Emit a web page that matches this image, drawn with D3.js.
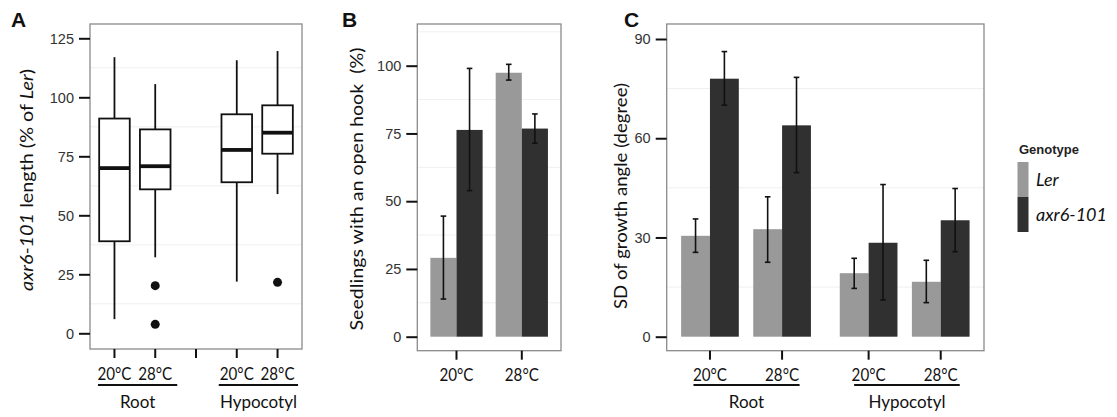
<!DOCTYPE html>
<html>
<head>
<meta charset="utf-8">
<script src="https://cdn.jsdelivr.net/npm/d3@7"></script>
<style>
  html, body { margin: 0; padding: 0; background: #fff; }
  svg { display: block; }
</style>
</head>
<body>
<svg id="chart" width="1117" height="417"></svg>
<script>
// ---------- DATA ----------
// Panel A: box plots of axr6-101 length (% of Ler)
const boxCats   = ["20°C", "28°C", "", "20°C", "28°C"];
const boxMin    = [6, 32.2, null, 21.9, 59];
const boxQ1     = [39, 61, null, 64, 76.1];
const boxMed    = [70, 70.8, null, 77.7, 85];
const boxQ3     = [91, 86.4, null, 92.8, 96.6];
const boxMax    = [117, 105.6, null, 115.7, 119.6];
const boxOut    = [[], [20.2, 3.8], [], [], [21.6]];
const boxTicks  = [0, 25, 50, 75, 100, 125];
const boxGroups = ["Root", "Hypocotyl"];

// Panel B: seedlings with an open hook (%)
const hookCats   = ["20°C", "28°C"];
const hookLer    = [29.1, 97.4];
const hookLerLo  = [13.9, 94.7];
const hookLerHi  = [44.5, 100.5];
const hookAxr    = [76.3, 76.8];
const hookAxrLo  = [53.9, 71.4];
const hookAxrHi  = [99.0, 82.2];
const hookTicks  = [0, 25, 50, 75, 100];

// Panel C: SD of growth angle (degree)
const angleCats    = ["20°C", "28°C", "20°C", "28°C"];
const angleTissue  = ["Root", "Root", "Hypocotyl", "Hypocotyl"];
const angleLer     = [30.5, 32.5, 19.2, 16.6];
const angleLerLo   = [25.5, 22.5, 14.6, 10.3];
const angleLerHi   = [35.6, 42.3, 23.7, 23.1];
const angleAxr     = [78.0, 63.9, 28.4, 35.2];
const angleAxrLo   = [70.0, 49.6, 11.1, 25.7];
const angleAxrHi   = [86.2, 78.4, 46.0, 44.8];
const angleTicks   = [0, 30, 60, 90];

const genotypes = ["Ler", "axr6-101"];
const genoColors = ["#999999", "#303030"];

// ---------- DRAWING ----------
const svg = d3.select("#chart");
const tickFont = "'Liberation Sans', Arial, sans-serif";
const textFont = "Lato, 'Open Sans', sans-serif";

function panelFrame(g, x0, x1, y0, y1) {
  g.append("rect").attr("x", x0).attr("y", y0).attr("width", x1 - x0).attr("height", y1 - y0)
    .attr("fill", "#fff").attr("stroke", "none");
}
function panelBorder(g, x0, x1, y0, y1) {
  g.append("rect").attr("x", x0).attr("y", y0).attr("width", x1 - x0).attr("height", y1 - y0)
    .attr("fill", "none").attr("stroke", "#8a8a8a").attr("stroke-width", 1.3);
}
function minorGrid(g, y, ticks, x0, x1, y0, y1) {
  const step = ticks[1] - ticks[0];
  const mids = [ticks[0] - step / 2].concat(ticks.map(t => t + step / 2));
  g.selectAll(null).data(mids.filter(d => y(d) > y0 && y(d) < y1)).enter().append("line")
    .attr("x1", x0).attr("x2", x1)
    .attr("y1", d => y(d)).attr("y2", d => y(d))
    .attr("stroke", "#efefef").attr("stroke-width", 1);
}
function yAxis(g, y, ticks, x0) {
  const ax = d3.axisLeft(y).tickValues(ticks).tickSize(11).tickFormat("");
  const a = g.append("g").attr("transform", `translate(${x0},0)`).call(ax);
  a.select(".domain").remove();
  a.selectAll(".tick line").attr("stroke", "#111").attr("stroke-width", 2);
  g.selectAll(null).data(ticks).enter().append("text")
    .attr("x", x0 - 16).attr("y", d => y(d)).attr("dy", "0.36em")
    .attr("text-anchor", "end").attr("font-family", tickFont).attr("font-size", 14.5)
    .attr("fill", "#333").text(d => d);
}
function xAxis(g, x, positions, labels, y0) {
  const a = g.append("g").attr("transform", `translate(0,${y0})`);
  positions.forEach((p, i) => {
    a.append("line").attr("x1", x(p)).attr("x2", x(p)).attr("y1", 0).attr("y2", 9)
      .attr("stroke", "#111").attr("stroke-width", 2);
    if (labels[i]) {
      a.append("text").attr("x", x(p)).attr("y", 30.5).attr("text-anchor", "middle")
        .attr("font-family", textFont).attr("font-size", 16.5).attr("fill", "#111")
        .attr("textLength", 34).attr("lengthAdjust", "spacingAndGlyphs").text(labels[i]);
    }
  });
}
function groupLabel(g, xa, xb, name) {
  g.append("line").attr("x1", xa).attr("x2", xb).attr("y1", 385).attr("y2", 385)
    .attr("stroke", "#111").attr("stroke-width", 2);
  g.append("text").attr("x", (xa + xb) / 2).attr("y", 408).attr("text-anchor", "middle")
    .attr("font-family", textFont).attr("font-size", 17).attr("fill", "#111").text(name);
}
function panelLetter(x, t) {
  svg.append("text").attr("x", x).attr("y", 27).attr("font-family", tickFont)
    .attr("font-weight", "bold").attr("font-size", 21).attr("fill", "#111").text(t);
}
function yTitle(cx, cy, parts, len) {
  const t = svg.append("text").attr("transform", `translate(${cx},${cy}) rotate(-90)`)
    .attr("text-anchor", "middle").attr("font-family", textFont).attr("font-size", 17)
    .attr("fill", "#111").style("white-space", "pre");
  parts.forEach(p => t.append("tspan").attr("font-style", p[1] ? "italic" : "normal").text(p[0]));
  if (len) t.attr("textLength", len).attr("lengthAdjust", "spacingAndGlyphs");
}
function errBar(g, xc, yLo, yHi, cap) {
  g.append("line").attr("x1", xc).attr("x2", xc).attr("y1", yLo).attr("y2", yHi)
    .attr("stroke", "#111").attr("stroke-width", 1.6);
  [yLo, yHi].forEach(yy => g.append("line").attr("x1", xc - cap).attr("x2", xc + cap)
    .attr("y1", yy).attr("y2", yy).attr("stroke", "#111").attr("stroke-width", 1.6));
}

// ===== Panel A =====
{
  const g = svg.append("g");
  const x0 = 90, x1 = 302, y0 = 24, y1 = 349;
  const x = d3.scaleLinear().domain([0.4, boxCats.length + 0.6]).range([x0, x1]);
  const y = d3.scaleLinear().domain([0, 125]).range([333.3, 38.3]);
  panelFrame(g, x0, x1, y0, y1);
  minorGrid(g, y, boxTicks, x0, x1, y0, y1);
  const bw = (x(1.75) - x(1));
  boxCats.forEach((c, i) => {
    if (boxMed[i] == null) return;
    const xc = x(i + 1);
    g.append("line").attr("x1", xc).attr("x2", xc).attr("y1", y(boxMax[i])).attr("y2", y(boxQ3[i]))
      .attr("stroke", "#111").attr("stroke-width", 1.8);
    g.append("line").attr("x1", xc).attr("x2", xc).attr("y1", y(boxQ1[i])).attr("y2", y(boxMin[i]))
      .attr("stroke", "#111").attr("stroke-width", 1.8);
    g.append("rect").attr("x", xc - bw / 2).attr("width", bw)
      .attr("y", y(boxQ3[i])).attr("height", y(boxQ1[i]) - y(boxQ3[i]))
      .attr("fill", "#fff").attr("stroke", "#111").attr("stroke-width", 1.8);
    g.append("line").attr("x1", xc - bw / 2).attr("x2", xc + bw / 2)
      .attr("y1", y(boxMed[i])).attr("y2", y(boxMed[i]))
      .attr("stroke", "#111").attr("stroke-width", 3.8);
    boxOut[i].forEach(v => g.append("circle").attr("cx", xc).attr("cy", y(v)).attr("r", 4.5).attr("fill", "#111"));
  });
  panelBorder(g, x0, x1, y0, y1);
  yAxis(g, y, boxTicks, x0);
  xAxis(g, x, boxCats.map((c, i) => i + 1), boxCats, y1);
  groupLabel(g, x(1) - 16.5, x(2) + 22, boxGroups[0]);
  groupLabel(g, x(4) - 18, x(5) + 20.5, boxGroups[1]);
  panelLetter(11, "A");
  yTitle(33, 180, [["axr6-101", true], [" length (% of ", false], ["Ler", true], [")", false]], 222);
}

// ===== Panel B =====
{
  const g = svg.append("g");
  const x0 = 417.3, x1 = 561, y0 = 24, y1 = 350.7;
  const x = d3.scaleLinear().domain([0.4, hookCats.length + 0.6]).range([x0, x1]);
  const y = d3.scaleLinear().domain([0, 100]).range([336.7, 65.7]);
  panelFrame(g, x0, x1, y0, y1);
  minorGrid(g, y, hookTicks, x0, x1, y0, y1);
  const half = x(1.4) - x(1);
  hookCats.forEach((c, i) => {
    const xc = x(i + 1);
    g.append("rect").attr("x", xc - half).attr("width", half).attr("y", y(hookLer[i]))
      .attr("height", y(0) - y(hookLer[i])).attr("fill", genoColors[0]);
    g.append("rect").attr("x", xc).attr("width", half).attr("y", y(hookAxr[i]))
      .attr("height", y(0) - y(hookAxr[i])).attr("fill", genoColors[1]);
    errBar(g, xc - half / 2, y(hookLerLo[i]), y(hookLerHi[i]), 2.8);
    errBar(g, xc + half / 2, y(hookAxrLo[i]), y(hookAxrHi[i]), 2.8);
  });
  panelBorder(g, x0, x1, y0, y1);
  yAxis(g, y, hookTicks, x0);
  xAxis(g, x, hookCats.map((c, i) => i + 1), hookCats, y1);
  panelLetter(342, "B");
  yTitle(363, 189, [["Seedlings with an open hook  (%)", false]], 283);
}

// ===== Panel C =====
{
  const g = svg.append("g");
  const x0 = 666.7, x1 = 984, y0 = 24, y1 = 350.7;
  const tissues = Array.from(new Set(angleTissue));
  const pos = angleCats.map((c, i) => i + 1 + tissues.indexOf(angleTissue[i]) * 0.2);
  const x = d3.scaleLinear().domain([0.4, d3.max(pos) + 0.6]).range([x0, x1]);
  const y = d3.scaleLinear().domain([0, 90]).range([336.7, 39]);
  panelFrame(g, x0, x1, y0, y1);
  minorGrid(g, y, angleTicks, x0, x1, y0, y1);
  const half = x(1.4) - x(1);
  angleCats.forEach((c, i) => {
    const xc = x(pos[i]);
    g.append("rect").attr("x", xc - half).attr("width", half).attr("y", y(angleLer[i]))
      .attr("height", y(0) - y(angleLer[i])).attr("fill", genoColors[0]);
    g.append("rect").attr("x", xc).attr("width", half).attr("y", y(angleAxr[i]))
      .attr("height", y(0) - y(angleAxr[i])).attr("fill", genoColors[1]);
    errBar(g, xc - half / 2, y(angleLerLo[i]), y(angleLerHi[i]), 2.8);
    errBar(g, xc + half / 2, y(angleAxrLo[i]), y(angleAxrHi[i]), 2.8);
  });
  panelBorder(g, x0, x1, y0, y1);
  yAxis(g, y, angleTicks, x0);
  xAxis(g, x, pos, angleCats, y1);
  groupLabel(g, x(pos[0]) - 16.5, x(pos[1]) + 17.5, tissues[0]);
  groupLabel(g, x(pos[2]) - 14.5, x(pos[3]) + 19, tissues[1]);
  panelLetter(624, "C");
  yTitle(627, 196, [["SD of growth angle (degree)", false]], 226);

  // Legend
  const lg = svg.append("g");
  lg.append("text").attr("x", 1019).attr("y", 154).attr("font-family", tickFont)
    .attr("font-weight", "bold").attr("font-size", 13).attr("fill", "#222").text("Genotype");
  genotypes.forEach((gname, i) => {
    const top = 162 + i * 35;
    lg.append("rect").attr("x", 1017.5).attr("y", top).attr("width", 11).attr("height", 35)
      .attr("fill", genoColors[i]);
    lg.append("text").attr("x", 1036).attr("y", top + 24).attr("font-family", textFont)
      .attr("font-style", "italic").attr("font-size", 18).attr("fill", "#111").text(gname);
  });
}
</script>
</body>
</html>
